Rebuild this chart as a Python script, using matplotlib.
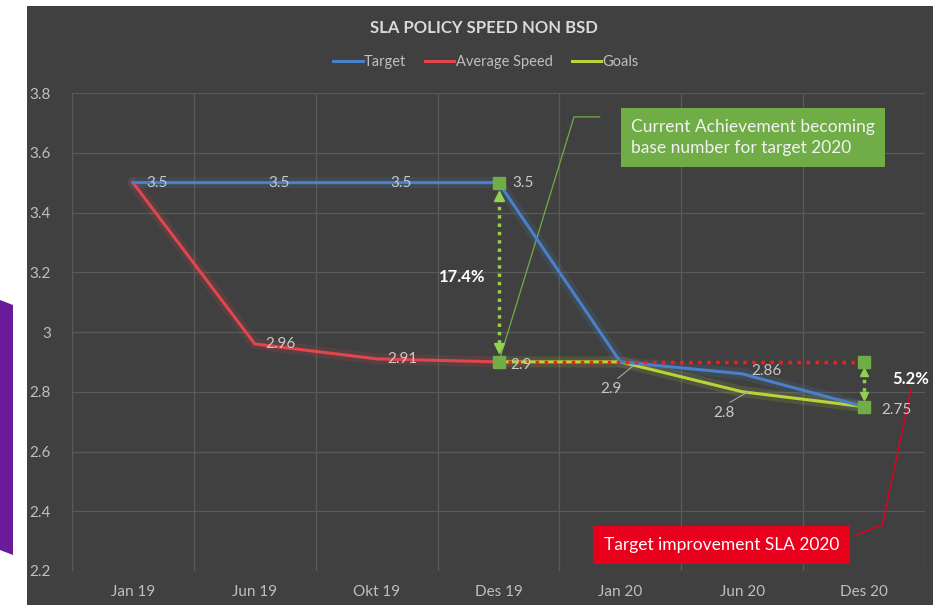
import numpy as np
import matplotlib.pyplot as plt
from matplotlib.patches import Rectangle, Polygon

# data
months = ["Jan 19", "Jun 19", "Okt 19", "Des 19", "Jan 20", "Jun 20", "Des 20"]
target = [3.5, 3.5, 3.5, 3.5, 2.9, 2.86, 2.75]
avg_speed = [3.5, 2.96, 2.91, 2.9, np.nan, np.nan, np.nan]
goals = [np.nan, np.nan, np.nan, 2.9, 2.9, 2.8, 2.75]
base_2020 = 2.9
gap_2019 = "17.4%"
gap_2020 = "5.2%"

plt.rcParams['font.family'] = ['Lato', 'DejaVu Sans']

BG = '#404040'
GRID = '#5a5a5a'
TXT = '#bfbfbf'
LBL = '#c8c8c8'
BLUE = '#4a80c8'
RED = '#e0464b'
YEL = '#b8d43a'
GRN = '#70ad47'

fig = plt.figure(figsize=(9.33, 6.05), dpi=100)
fig.patch.set_facecolor('white')
# dark chart panel and the purple slide shape at the left
fig.patches.append(Rectangle((27 / 933, 0), 1, 1 - 6 / 605, transform=fig.transFigure,
                             facecolor=BG, edgecolor='none', zorder=-2))
fig.patches.append(Polygon([(0, 1 - 300 / 605), (13 / 933, 1 - 305 / 605), (13 / 933, 1 - 555 / 605),
                            (0, 1 - 550 / 605)], closed=True, transform=fig.transFigure,
                           facecolor='#6a1b9a', edgecolor='none', zorder=-2))

ax = fig.add_axes([72 / 933, 1 - 571 / 605, 853 / 933, 478 / 605])
ax.set_zorder(1)
ax.set_facecolor(BG)
x = np.arange(len(months))

# glow + lines
for ys, c in [(target, BLUE), (avg_speed, RED), (goals, YEL)]:
    ax.plot(x, ys, color=c, lw=8, alpha=0.14, solid_capstyle='round', zorder=2)
ax.plot(x, goals, color=YEL, lw=2.2, zorder=3, label='Goals')
ax.plot(x, avg_speed, color=RED, lw=2.2, zorder=3, label='Average Speed')
ax.plot(x, target, color=BLUE, lw=2.2, zorder=4, label='Target')

# dotted base line 2020
ax.plot([3, 6], [base_2020, base_2020], color='#ff1a1a', lw=2.5, ls=(0, (1, 1.6)), zorder=5)

# dotted gap arrows
ax.plot([3, 3], [target[3] - 0.05, avg_speed[3] + 0.05], color='#92d050', lw=2.5,
        ls=(0, (1, 1.4)), zorder=5)
ax.plot([3], [target[3] - 0.045], marker='^', color='#92d050', ms=7, zorder=6)
ax.plot([3], [avg_speed[3] + 0.045], marker='v', color='#92d050', ms=7, zorder=6)
ax.plot([6, 6], [base_2020 - 0.03, goals[6] + 0.03], color='#92d050', lw=2.5,
        ls=(0, (1, 1.4)), zorder=5)
ax.plot([6], [base_2020 - 0.035], marker='^', color='#92d050', ms=6, zorder=6)
ax.plot([6], [goals[6] + 0.035], marker='v', color='#92d050', ms=6, zorder=6)

# square markers
ax.plot([3, 3, 6, 6], [target[3], avg_speed[3], base_2020, goals[6]], ls='none',
        marker='s', ms=9, color=GRN, zorder=7)

# data labels
fs = 11
for i in range(4):
    ax.text(x[i] + 0.11, target[i], "3.5", color=LBL, fontsize=fs, va='center', zorder=8)
ax.text(1.09, avg_speed[1], "2.96", color=LBL, fontsize=fs, va='center', zorder=8)
ax.text(2.09, avg_speed[2], "2.91", color=LBL, fontsize=fs, va='center', zorder=8)
ax.text(3.1, avg_speed[3] - 0.01, "2.9", color=LBL, fontsize=fs, va='center', zorder=8)
ax.text(3.92, 2.81, "2.9", color=LBL, fontsize=fs, ha='center', va='center', zorder=8)
ax.plot([3.98, 4.1], [2.845, 2.885], color='#a6a6a6', lw=0.8, zorder=8)
ax.text(5.2, 2.868, "2.86", color=LBL, fontsize=fs, ha='center', va='center', zorder=8)
ax.text(4.85, 2.728, "2.8", color=LBL, fontsize=fs, ha='center', va='center', zorder=8)
ax.plot([4.9, 5.05], [2.765, 2.8], color='#a6a6a6', lw=0.8, zorder=8)
ax.text(6.14, goals[6] - 0.01, "2.75", color=LBL, fontsize=fs, va='center', zorder=8)

ax.text(2.7, 3.185, gap_2019, color='white', fontsize=12, fontweight='bold',
        ha='center', va='center', zorder=8)
ax.text(6.38, 2.843, gap_2020, color='white', fontsize=12, fontweight='bold',
        ha='center', va='center', zorder=8, clip_on=False)

# callout boxes with leader lines
ax.plot([3.83, 3.62, 3.01], [3.72, 3.72, 2.91], color=GRN, lw=0.9, zorder=3)
ax.text(4.087, 3.651, "Current Achievement becoming\nbase number for target 2020",
        color='#f2f2f2', fontsize=12.5, ha='left', va='center', linespacing=1.4, zorder=9,
        bbox=dict(boxstyle='square,pad=0.6', facecolor=GRN, edgecolor='none'))
ax.plot([5.93, 6.15, 6.39], [2.32, 2.355, 2.815], color='#e8001c', lw=1.0, zorder=3,
        clip_on=False)
ax.text(4.83, 2.287, "Target improvement SLA 2020", color='white', fontsize=12.5,
        ha='center', va='center', zorder=9,
        bbox=dict(boxstyle='square,pad=0.65', facecolor='#e8001c', edgecolor='none'))

# axes styling
ax.set_xlim(-0.5, 6.5)
ax.set_ylim(2.2, 3.8)
ax.set_xticks(x)
ax.set_xticklabels(months)
ax.set_xticks(np.arange(-0.5, 7, 1), minor=True)
ax.set_yticks(np.arange(2.2, 3.81, 0.2))
ax.set_yticklabels([f"{v:g}" for v in np.round(np.arange(2.2, 3.81, 0.2), 1)])
ax.grid(True, axis='y', color=GRID, lw=0.9)
ax.grid(True, axis='x', which='minor', color=GRID, lw=0.9)
ax.set_axisbelow(True)
for s in ax.spines.values():
    s.set_visible(False)
ax.tick_params(axis='both', which='both', length=0, colors=TXT, labelsize=11)
ax.tick_params(axis='y', pad=15)
ax.tick_params(axis='x', pad=10)

fig.text(484 / 933, 1 - 28 / 605, "SLA POLICY SPEED NON BSD", color='#d9d9d9', fontsize=12,
         fontweight='bold', ha='center', va='center')
h, l = ax.get_legend_handles_labels()
order = [2, 1, 0]
leg = fig.legend([h[i] for i in order], [l[i] for i in order], loc='center',
                 bbox_to_anchor=(486 / 933, 1 - 62 / 605), ncol=3, frameon=False,
                 fontsize=10.5, labelcolor=TXT, handlelength=2.0, handletextpad=0.1,
                 columnspacing=1.3)

fig.savefig("out.png", dpi=100, facecolor=fig.get_facecolor())
